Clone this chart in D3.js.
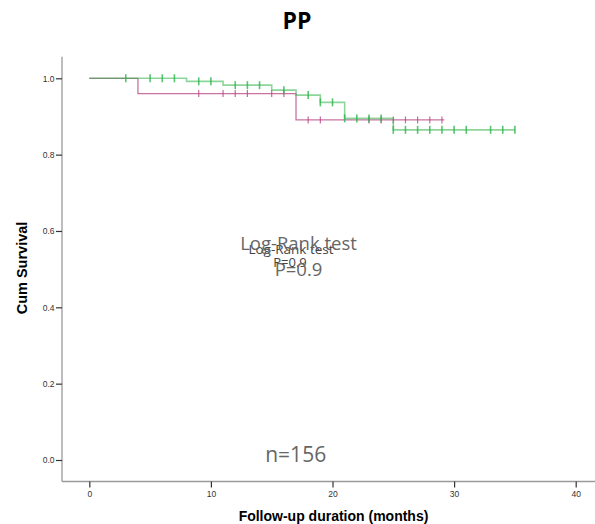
<!DOCTYPE html>
<html>
<head>
<meta charset="utf-8">
<script src="https://cdn.jsdelivr.net/npm/d3@7"></script>
<style>
  html, body { margin: 0; padding: 0; background: #fff; }
  svg { display: block; }
</style>
</head>
<body>
<svg id="chart" width="595" height="524"></svg>
<script>
// Kaplan–Meier step data: [time in months, cumulative survival]
const greenSteps = [[0, 1.0], [8, 0.992], [11, 0.982], [15, 0.969], [17, 0.956], [19, 0.937], [21, 0.895], [25, 0.865]];
const greenEnd = 35;
const greenCensored = [3, 5, 6, 7, 9, 10, 12, 13, 14, 16, 18, 19, 20, 21, 22, 23, 24, 25, 26, 27, 28, 29, 30, 31, 33, 34, 35];

const pinkSteps = [[0, 1.0], [4, 0.96], [17, 0.891]];
const pinkEnd = 29.2;
const pinkCensored = [9, 11, 12, 13, 15, 16, 18, 19, 23, 24, 25, 26, 27, 28, 29];

const xTicks = [0, 10, 20, 30, 40];
const yTicks = [0, 0.2, 0.4, 0.6, 0.8, 1.0];

const svg = d3.select("#chart");

const x = d3.scaleLinear().domain([0, 40]).range([89.3, 575.7]);
const y = d3.scaleLinear().domain([0, 1]).range([460, 78.3]);

const axisX = 62, axisY = 481.5;

// axis lines
svg.append("line").attr("x1", axisX).attr("x2", axisX).attr("y1", 56.7).attr("y2", axisY)
  .attr("stroke", "#9a9a9a").attr("stroke-width", 1.3);
svg.append("line").attr("x1", axisX).attr("x2", 595).attr("y1", axisY).attr("y2", axisY)
  .attr("stroke", "#9a9a9a").attr("stroke-width", 1.3);

// y axis ticks
const gy = svg.append("g").attr("transform", `translate(${axisX},0)`)
  .call(d3.axisLeft(y).tickValues(yTicks).tickFormat(d3.format(".1f")).tickSize(6).tickPadding(1.5));
gy.select(".domain").remove();
gy.selectAll(".tick line").attr("stroke", "#333").attr("stroke-width", 1.2);
gy.selectAll(".tick text").attr("fill", "#333").style("font-family", "Liberation Sans, Arial, sans-serif").style("font-size", "8.5px");

// x axis ticks
const gx = svg.append("g").attr("transform", `translate(0,${axisY})`)
  .call(d3.axisBottom(x).tickValues(xTicks).tickFormat(d3.format("d")).tickSize(6).tickPadding(3));
gx.select(".domain").remove();
gx.selectAll(".tick line").attr("stroke", "#333").attr("stroke-width", 1.2);
gx.selectAll(".tick text").attr("fill", "#333").style("font-family", "Liberation Sans, Arial, sans-serif").style("font-size", "8.5px");

// survival curves
function stepPath(steps, end) {
  const pts = steps.map(d => [d[0], d[1]]);
  pts.push([end, steps[steps.length - 1][1]]);
  return d3.line().x(d => x(d[0])).y(d => y(d[1])).curve(d3.curveStepAfter)(pts);
}
function survivalAt(steps, t) {
  let s = steps[0][1];
  for (const d of steps) if (d[0] <= t) s = d[1];
  return s;
}

const pinkColor = "#b4387a";
const greenColor = "#2db54a";

svg.append("path").attr("d", stepPath(pinkSteps, pinkEnd))
  .attr("fill", "none").attr("stroke", pinkColor).attr("stroke-width", 1.3).attr("stroke-opacity", 0.7);
svg.selectAll(".pc").data(pinkCensored).enter().append("line")
  .attr("x1", d => x(d)).attr("x2", d => x(d))
  .attr("y1", d => y(survivalAt(pinkSteps, d)) - 3.5)
  .attr("y2", d => y(survivalAt(pinkSteps, d)) + 3.5)
  .attr("stroke", pinkColor).attr("stroke-width", 1.2).attr("stroke-opacity", 0.75);

svg.append("path").attr("d", stepPath(greenSteps, greenEnd))
  .attr("fill", "none").attr("stroke", greenColor).attr("stroke-width", 1.6).attr("stroke-opacity", 0.55);
svg.selectAll(".gc").data(greenCensored).enter().append("line")
  .attr("x1", d => x(d)).attr("x2", d => x(d))
  .attr("y1", d => y(survivalAt(greenSteps, d)) - 4)
  .attr("y2", d => y(survivalAt(greenSteps, d)) + 4)
  .attr("stroke", greenColor).attr("stroke-width", 1.6).attr("stroke-opacity", 0.8);

// titles
svg.append("text").attr("x", 297).attr("y", 28.5).attr("text-anchor", "middle")
  .style("font-family", "Open Sans, sans-serif").style("font-weight", "bold").style("font-size", "23px")
  .attr("fill", "#000").text("PP");

svg.append("text").attr("transform", "translate(26.5,268) rotate(-90)").attr("text-anchor", "middle")
  .style("font-family", "Liberation Sans, Arial, sans-serif").style("font-weight", "bold").style("font-size", "14.5px")
  .attr("fill", "#000").text("Cum Survival");

svg.append("text").attr("x", 333.5).attr("y", 520.5).attr("text-anchor", "middle")
  .style("font-family", "Liberation Sans, Arial, sans-serif").style("font-weight", "bold").style("font-size", "14px")
  .attr("fill", "#000").text("Follow-up duration (months)");

// test annotation
svg.append("text").attr("x", 291).attr("y", 254).attr("text-anchor", "middle")
  .style("font-family", "Open Sans, sans-serif").style("font-size", "13.5px")
  .attr("fill", "#444").text("Log-Rank test");
svg.append("text").attr("x", 290).attr("y", 267).attr("text-anchor", "middle")
  .style("font-family", "Open Sans, sans-serif").style("font-size", "13px")
  .attr("fill", "#444").text("P=0.9");

svg.append("text").attr("x", 298.5).attr("y", 250).attr("text-anchor", "middle")
  .style("font-family", "Open Sans, sans-serif").style("font-size", "18.5px")
  .attr("fill", "#666").text("Log-Rank test");
svg.append("text").attr("x", 298.5).attr("y", 275.5).attr("text-anchor", "middle")
  .style("font-family", "Open Sans, sans-serif").style("font-size", "18.5px")
  .attr("fill", "#666").text("P=0.9");

svg.append("text").attr("x", 295.7).attr("y", 462.3).attr("text-anchor", "middle")
  .style("font-family", "Open Sans, sans-serif").style("font-size", "21px")
  .attr("fill", "#666").text("n=156");
</script>
</body>
</html>
